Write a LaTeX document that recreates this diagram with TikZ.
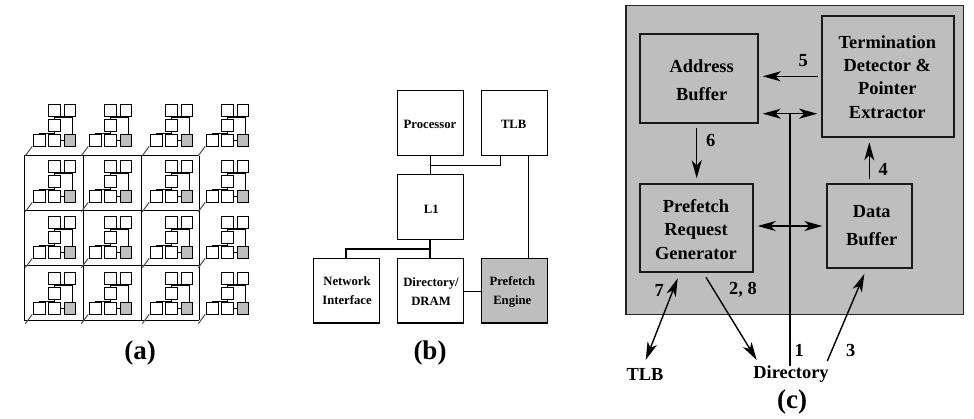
\documentclass[tikz,border=0pt]{standalone}
\usepackage{fontspec}
\setmainfont{Liberation Serif}
\usetikzlibrary{arrows.meta,calc}
\definecolor{panelgray}{HTML}{BEBEBE}
\newcommand{\pxbox}[6]{%
  \pgfmathsetmacro{\pxcx}{(#3+#5)/2}\pgfmathsetmacro{\pxcy}{(#4+#6)/2}%
  \pgfmathsetmacro{\pxw}{#5-#3}\pgfmathsetmacro{\pxh}{#6-#4}%
  \node[#1,minimum width=\pxw pt,minimum height=\pxh pt] (#2) at (\pxcx,\pxcy) {};}
\tikzset{
  modbox/.style={draw=black,line width=1.15pt,inner sep=0pt,outer sep=0pt},
  modgray/.style={modbox,fill=panelgray},
  modline/.style={black,line width=1.1pt},
  modbus/.style={black,line width=1.6pt},
  gridline/.style={black,line width=1.15pt},
  diagline/.style={black!65,line width=1.1pt},
  bbox/.style={draw=black,line width=1.1pt,inner sep=0pt,outer sep=0pt},
  bgray/.style={bbox,fill=panelgray},
  bline/.style={black,line width=1.1pt},
  bbus/.style={black,line width=1.7pt},
  cbox/.style={draw=black!90,line width=1.8pt,inner sep=0pt,outer sep=0pt},
  outerbox/.style={draw=black!85,fill=panelgray,line width=1.4pt,inner sep=0pt,outer sep=0pt},
  carrow/.style={black,line width=1.4pt,-{Stealth[length=18pt,width=10pt,inset=5pt]}},
  cdouble/.style={black,line width=1.4pt,{Stealth[length=18pt,width=10pt,inset=5pt]}-{Stealth[length=18pt,width=10pt,inset=5pt]}},
  bt/.style={font=\bfseries\fontsize{12.7}{19.6}\selectfont,align=center,inner sep=0pt},
  ct/.style={font=\bfseries\fontsize{18.4}{23.4}\selectfont,align=center,inner sep=0pt},
  ctw/.style={font=\bfseries\fontsize{18.4}{27.6}\selectfont,align=center,inner sep=0pt},
  figcap/.style={font=\bfseries\fontsize{27}{30}\selectfont,inner sep=0pt},
}
\begin{document}
\begin{tikzpicture}[x=1pt,y=-1pt]
\useasboundingbox (0,0) rectangle (974,418);
% ---------- panel (a): mesh grid
\foreach \yy in {155.7,210.3,265.3,320.3} \draw[gridline] (24.3,\yy) -- (199.3,\yy);
\foreach \xx in {24.3,83.3,141.5,199.3} \draw[gridline] (\xx,155.7) -- (\xx,320.3);
% modules
\foreach \dx/\cl in {0/1,56/2,117/3,173/4}{
  \foreach \dy/\rw in {0/1,56/2,112/3,168/4}{
    \begin{scope}[shift={(\dx,\dy)}]
      \pxbox{modbox}{tl\rw\cl}{48.3}{104.3}{60.7}{116.3}{}
      \pxbox{modbox}{tr\rw\cl}{64.3}{104.3}{75.7}{116.3}{}
      \pxbox{modbox}{mi\rw\cl}{48.3}{119.3}{60.7}{131.3}{}
      \pxbox{modbox}{bl\rw\cl}{33.3}{134.3}{45.3}{146.3}{}
      \pxbox{modbox}{bm\rw\cl}{48.3}{134.3}{60.7}{146.3}{}
      \pxbox{modgray}{br\rw\cl}{64.3}{134.3}{75.7}{146.3}{}
      \draw[modline] (tl\rw\cl) -- (mi\rw\cl);
      \draw[modline] (mi\rw\cl) -- (bm\rw\cl);
      \draw[modline] (bm\rw\cl) -- (br\rw\cl);
      \coordinate (ja\rw\cl) at (54.3,117.2);
      \coordinate (jb\rw\cl) at (72.3,117.2);
      \coordinate (jc\rw\cl) at (39.3,133.4);
      \coordinate (jd\rw\cl) at (54.3,133.4);
      \draw[modline] (jb\rw\cl |- tr\rw\cl.south) -- (jb\rw\cl |- br\rw\cl.north);
      \draw[modbus] (ja\rw\cl) -- (jb\rw\cl);
      \draw[modbus] (jc\rw\cl) -- (jd\rw\cl);
      \coordinate (da\rw\cl) at (32.3,146.3);
      \coordinate (db\rw\cl) at (25.3,155.7);
      \draw[diagline] (da\rw\cl) -- (db\rw\cl);
    \end{scope}
  }
}
\node[figcap] (capa) at (140,353) {(a)};
% ---------- panel (b)
\pxbox{bbox}{proc}{397.3}{90.3}{463.3}{155.3}{}
\pxbox{bbox}{tlb}{481.7}{90.3}{547.3}{155.3}{}
\pxbox{bbox}{lone}{397.3}{174.3}{463.3}{239.3}{}
\pxbox{bbox}{net}{313.7}{258.3}{379.3}{323}{}
\pxbox{bbox}{dir}{397.3}{258.3}{463.3}{323}{}
\pxbox{bgray}{pre}{481.7}{258.3}{547.3}{323}{}
\node[bt] (tproc) at (430,124) {Processor};
\node[bt] (ttlb) at (513.7,124) {TLB};
\node[bt] (tlone) at (431.3,209) {L1};
\node[bt] (tnet) at (347,290.5) {Network\\Interface};
\node[bt] (tdir) at (431,291.5) {Directory/\\DRAM};
\node[bt] (tpre) at (512.3,292) {Prefetch\\Engine};
\draw[bline] (proc) -- (lone);
\coordinate (tj) at (500.7,165.3);
\coordinate (tk) at (430.3,165.3);
\draw[bline] (tj |- tlb.south) -- (tj) -- (tk);
\coordinate (pj) at (528.7,200);
\draw[bline] (pj |- tlb.south) -- (pj |- pre.north);
\coordinate (nj) at (346.3,248.7);
\coordinate (dj) at (430.3,248.7);
\draw[bbus] (lone) -- (dir);
\draw[bbus] (nj |- net.north) -- (nj) -- (dj);
\coordinate (dp) at (470,291.3);
\draw[bline] (dir.east |- dp) -- (pre.west |- dp);
\node[figcap] (capb) at (430,353) {(b)};
% ---------- panel (c)
\pxbox{outerbox}{outer}{626}{5.7}{963.3}{314.7}{}
\pxbox{cbox}{addr}{640.3}{34}{757.7}{123}{}
\pxbox{cbox}{term}{822.3}{15.7}{953.7}{137}{}
\pxbox{cbox}{preq}{640.3}{183.7}{753}{272.3}{}
\pxbox{cbox}{data}{827}{183.7}{911.7}{268}{}
\node[ctw] (taddr) at (701.7,80.5) {Address\\Buffer};
\node[ct] (tterm) at (887.3,77) {Termination\\Detector \&\\Pointer\\Extractor};
\node[ct] (tpreq) at (696,229.5) {Prefetch\\Request\\Generator};
\node[ctw] (tdata) at (871.7,225.5) {Data\\Buffer};
\node[ctw] (ltlb) at (645,374) {TLB};
\node[ctw] (ldir) at (791,374) {Directory};
\node[ctw] (l5) at (803.3,61) {5};
\node[ctw] (l6) at (710.7,140) {6};
\node[ctw] (l4) at (883.3,169) {4};
\node[ctw] (l7) at (659.3,290) {7};
\node[ctw] (l28) at (743,290) {2, 8};
\node[ctw] (l1) at (799.3,350.7) {1};
\node[ctw] (l3) at (850.7,350.7) {3};
\node[figcap] (capc) at (792,401.7) {(c)};
% arrows
\coordinate (a5s) at (817.7,76.3);
\coordinate (a5e) at (762.7,76.3);
\draw[carrow] (a5s) -- (a5e);
\coordinate (dbl) at (762.7,113.7);
\coordinate (dbr) at (817.2,113.7);
\draw[cdouble] (dbl) -- (dbr);
\coordinate (vt) at (790,113.7);
\coordinate (vb) at (790,365.7);
\draw[black,line width=1.4pt] (vt) -- (vb);
\coordinate (a6s) at (696.7,128);
\coordinate (a6e) at (696.7,178.3);
\draw[carrow] (a6s) -- (a6e);
\coordinate (a4s) at (869.3,179);
\coordinate (a4e) at (869.3,142.3);
\draw[carrow] (a4s) -- (a4e);
\coordinate (pdl) at (757.7,226);
\coordinate (pdr) at (822.3,226);
\draw[cdouble] (pdl) -- (pdr);
\coordinate (a7s) at (677.7,278.3);
\coordinate (a7e) at (645.7,360);
\draw[cdouble] (a7s) -- (a7e);
\coordinate (a2s) at (706,277.3);
\coordinate (a2e) at (756.7,360);
\draw[carrow] (a2s) -- (a2e);
\coordinate (a3s) at (827.3,361);
\coordinate (a3e) at (864.3,274);
\draw[carrow] (a3s) -- (a3e);
\end{tikzpicture}
\end{document}
